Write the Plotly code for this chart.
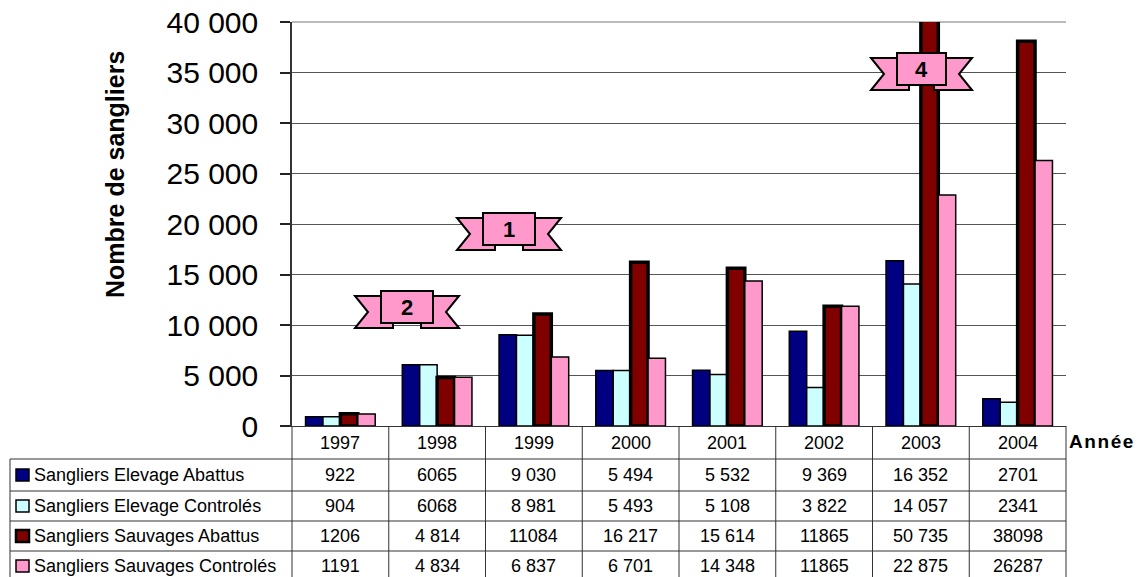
import plotly.graph_objects as go

# ---------------- data ----------------
years = ["1997", "1998", "1999", "2000", "2001", "2002", "2003", "2004"]
series_names = [
    "Sangliers Elevage Abattus",
    "Sangliers Elevage Controlés",
    "Sangliers Sauvages Abattus",
    "Sangliers Sauvages Controlés",
]
elevage_abattus = [922, 6065, 9030, 5494, 5532, 9369, 16352, 2701]
elevage_controles = [904, 6068, 8981, 5493, 5108, 3822, 14057, 2341]
sauvages_abattus = [1206, 4814, 11084, 16217, 15614, 11865, 50735, 38098]
sauvages_controles = [1191, 4834, 6837, 6701, 14348, 11865, 22875, 26287]

label_elevage_abattus = ["922", "6065", "9 030", "5 494", "5 532", "9 369", "16 352", "2701"]
label_elevage_controles = ["904", "6068", "8 981", "5 493", "5 108", "3 822", "14 057", "2341"]
label_sauvages_abattus = ["1206", "4 814", "11084", "16 217", "15 614", "11865", "50 735", "38098"]
label_sauvages_controles = ["1191", "4 834", "6 837", "6 701", "14 348", "11865", "22 875", "26287"]

y_tick_vals = [0, 5000, 10000, 15000, 20000, 25000, 30000, 35000, 40000]
y_tick_text = ["0", "5 000", "10 000", "15 000", "20 000", "25 000", "30 000", "35 000", "40 000"]

ribbon_labels = ["2", "1", "4"]

# ---------------- styling ----------------
colors = ["#000080", "#CCFFFF", "#800000", "#FF99CC"]
line_widths = [1.5, 1.5, 3.5, 1.5]
FONT = "Liberation Sans, Arial, sans-serif"

W_FIG, H_FIG = 1146, 577
L, R, T, B = 292, 1066, 22, 426
PW, PH = R - L, B - T


def px(x):
    return (x - L) / PW


def py(y):
    return (B - y) / PH


values = [elevage_abattus, elevage_controles, sauvages_abattus, sauvages_controles]
labels = [label_elevage_abattus, label_elevage_controles, label_sauvages_abattus, label_sauvages_controles]

fig = go.Figure()
for name, vals, col, lw in zip(series_names, values, colors, line_widths):
    fig.add_trace(go.Bar(
        x=years, y=vals, name=name,
        marker=dict(color=col, line=dict(color="black", width=lw)),
    ))

shapes = []
annotations = []
LINE_COL = "#333333"

# top gridline
shapes.append(dict(type="line", xref="paper", yref="paper", x0=0, x1=1, y0=1, y1=1,
                   line=dict(color="#777777", width=1), layer="below"))

# table horizontal lines
row_lines = [459, 491, 521, 551]
for yl in row_lines:
    shapes.append(dict(type="line", xref="paper", yref="paper",
                       x0=px(10), x1=px(R), y0=py(yl), y1=py(yl),
                       line=dict(color=LINE_COL, width=1)))
# vertical lines
shapes.append(dict(type="line", xref="paper", yref="paper",
                   x0=px(10), x1=px(10), y0=py(459), y1=py(580),
                   line=dict(color=LINE_COL, width=1)))
n = len(years)
for k in range(n + 1):
    shapes.append(dict(type="line", xref="paper", yref="paper",
                       x0=k / n, x1=k / n, y0=py(B), y1=py(580),
                       line=dict(color=LINE_COL, width=1)))

row_centers = [475, 506, 536, 566]
year_row_center = 443

for i, yr in enumerate(years):
    annotations.append(dict(x=i, xref="x", y=py(year_row_center), yref="paper",
                            text=yr, showarrow=False, xanchor="center", yanchor="middle",
                            font=dict(family=FONT, size=18, color="black")))

for r, (name, lbls, col, lw) in enumerate(zip(series_names, labels, colors, line_widths)):
    yc = row_centers[r]
    shapes.append(dict(type="rect", xref="paper", yref="paper",
                       x0=px(16), x1=px(29), y0=py(yc - 6), y1=py(yc + 6),
                       fillcolor=col, line=dict(color="black", width=1.5 if lw < 2 else 2.5)))
    annotations.append(dict(x=px(32), xref="paper", y=py(yc), yref="paper",
                            text=name, showarrow=False, xanchor="left", yanchor="middle",
                            font=dict(family=FONT, size=18, color="black")))
    for i, t in enumerate(lbls):
        annotations.append(dict(x=i, xref="x", y=py(yc), yref="paper",
                                text=t, showarrow=False, xanchor="center", yanchor="middle",
                                font=dict(family=FONT, size=18, color="black")))

annotations.append(dict(x=px(1067), xref="paper", y=py(441), yref="paper",
                        text="<b>" + "\u200a".join("Année") + "</b>", showarrow=False,
                        xanchor="left", yanchor="middle",
                        font=dict(family=FONT, size=19, color="black")))

annotations.append(dict(x=px(115), xref="paper", y=py(175), yref="paper",
                        text="<b>Nombre de sangliers</b>", showarrow=False, textangle=-90,
                        xanchor="center", yanchor="middle",
                        font=dict(family=FONT, size=25, color="black")))

# ribbons (box left, box right, box top, box bottom) in pixels
ribbon_boxes = [(381, 433, 291, 323), (483, 535, 213, 245), (897, 946, 53, 85)]


def pth(points):
    return "M " + " L ".join(f"{px(a):.5f},{py(b):.5f}" for a, b in points) + " Z"


for (bl, br, bt, bb), txt in zip(ribbon_boxes, ribbon_labels):
    off = 5
    wt, wb = bt + off, bb + off
    ext, notch = 26, 13
    mid = (wt + wb) / 2
    left = [(bl, wt), (bl - ext, wt), (bl - ext + notch, mid), (bl - ext, wb),
            (bl + 12, wb), (bl + 12, bb), (bl, bb)]
    right = [(br, wt), (br + ext, wt), (br + ext - notch, mid), (br + ext, wb),
             (br - 12, wb), (br - 12, bb), (br, bb)]
    for pts in (left, right):
        shapes.append(dict(type="path", xref="paper", yref="paper", path=pth(pts),
                           fillcolor="#FF99CC", line=dict(color="black", width=2)))
    shapes.append(dict(type="rect", xref="paper", yref="paper",
                       x0=px(bl), x1=px(br), y0=py(bb), y1=py(bt),
                       fillcolor="#FF99CC", line=dict(color="black", width=2)))
    annotations.append(dict(x=px((bl + br) / 2), xref="paper", y=py((bt + bb) / 2), yref="paper",
                            text=f"<b>{txt}</b>", showarrow=False, xanchor="center", yanchor="middle",
                            font=dict(family=FONT, size=22, color="black")))

fig.update_layout(
    width=W_FIG, height=H_FIG,
    margin=dict(l=L, r=W_FIG - R, t=T, b=H_FIG - B, pad=0, autoexpand=False),
    paper_bgcolor="white", plot_bgcolor="white",
    barmode="group", bargap=0.28, bargroupgap=0,
    showlegend=False,
    shapes=shapes, annotations=annotations,
    font=dict(family=FONT, color="black"),
)
fig.update_xaxes(type="category", range=[-0.5, len(years) - 0.5], showticklabels=False, ticks="",
                 showline=True, linecolor=LINE_COL, linewidth=1, showgrid=False, automargin=False)
fig.update_yaxes(range=[0, 40000], tickvals=y_tick_vals, ticktext=y_tick_text,
                 ticks="outside", ticklen=10, tickcolor="#222222", tickwidth=1.5,
                 ticklabelstandoff=16, automargin=False,
                 showline=True, linecolor=LINE_COL, linewidth=1.5,
                 showgrid=True, gridcolor="#555555", gridwidth=1, zeroline=False,
                 tickfont=dict(family=FONT, size=30, color="black"))

fig.write_html("out.html")
